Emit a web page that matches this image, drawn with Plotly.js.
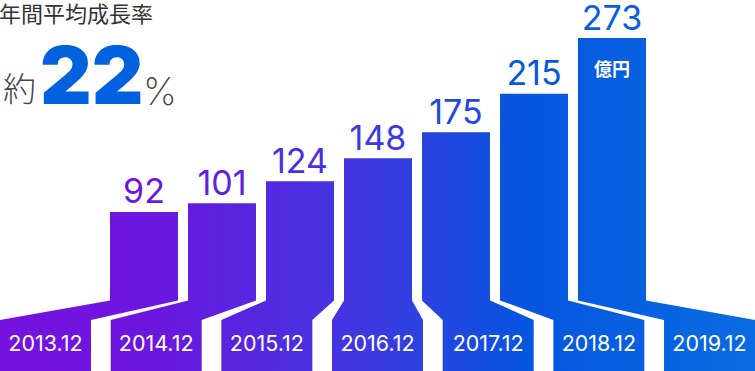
<!DOCTYPE html>
<html>
<head>
<meta charset="utf-8">
<script src="https://cdn.plot.ly/plotly-3.0.1.min.js"></script>
<style>
  html, body { margin: 0; padding: 0; background: #ffffff; }
  #chart { width: 755px; height: 371px; }
</style>
</head>
<body>
<div id="chart"></div>
<script>
// ---- data ----
const years = ['2013.12', '2014.12', '2015.12', '2016.12', '2017.12', '2018.12', '2019.12'];
const values = [92, 101, 124, 148, 175, 215, 273];
const unitLabel = '億円';
const headline = '年間平均成長率';
const ratePrefix = '約';
const rateValue = '22';
const rateSuffix = '%';

// ---- layout constants (pixels) ----
const W = 755, H = 371;
const BAR_PITCH = 78;          // px per x-unit
const BAR_W = 68;
const FIRST_BAR_CENTER = 144;  // px
const ZERO_Y = 300.4;          // px where value 0 sits
const PX_PER_VAL = 0.961;
const BOX_PITCH = 110.67, BOX_W = 91, BOX_TOP = 320;

const xMin = -FIRST_BAR_CENTER / BAR_PITCH;
const xMax = (W - FIRST_BAR_CENTER) / BAR_PITCH;
const yMax = ZERO_Y / PX_PER_VAL;
const yMin = -(H - ZERO_Y) / PX_PER_VAL;
const pxToX = px => (px - FIRST_BAR_CENTER) / BAR_PITCH;
const pyToY = py => (ZERO_Y - py) / PX_PER_VAL;

const stops = [[0, '#7611E0'], [0.2, '#6C16DF'], [0.5, '#3B3AE1'], [0.7, '#0556E0'], [1, '#0A6BE1']];
function hex2rgb(h) { return [1, 3, 5].map(i => parseInt(h.substr(i, 2), 16)); }
function colorAt(t) {
  for (let k = 1; k < stops.length; k++) {
    if (t <= stops[k][0]) {
      const a = stops[k - 1], b = stops[k];
      const f = (t - a[0]) / (b[0] - a[0]);
      const ca = hex2rgb(a[1]), cb = hex2rgb(b[1]);
      const c = ca.map((v, j) => Math.round(v + (cb[j] - v) * f));
      return 'rgb(' + c.join(',') + ')';
    }
  }
  return stops[stops.length - 1][1];
}

const halfBar = (BAR_W / 2) / BAR_PITCH;
const boxTopY = pyToY(BOX_TOP);
const boxBotY = yMin - 2;

const traces = [];
values.forEach((v, i) => {
  const bl = pxToX(BOX_PITCH * i);
  const br = pxToX(BOX_PITCH * i + BOX_W);
  const xl = i - halfBar, xr = i + halfBar;
  traces.push({
    type: 'scatter', mode: 'none', fill: 'toself', hoverinfo: 'skip',
    x: [bl, bl, xl, xl, xr, xr, br, br, bl],
    y: [boxBotY, boxTopY, 0, v, v, 0, boxTopY, boxBotY, boxBotY],
    fillcolor: colorAt((FIRST_BAR_CENTER + BAR_PITCH * i) / W),
    fillgradient: { type: 'horizontal', colorscale: stops, start: xMin, stop: xMax }
  });
});

// value labels
traces.push({
  type: 'scatter', mode: 'text', hoverinfo: 'skip', cliponaxis: false,
  x: values.map((v, i) => i), y: values,
  text: values.map(String), textposition: 'top center',
  textfont: { family: 'Inter, sans-serif', size: 34, weight: 400,
    color: values.map((v, i) => colorAt((FIRST_BAR_CENTER + BAR_PITCH * i) / W)) }
});

// year labels
traces.push({
  type: 'scatter', mode: 'text', hoverinfo: 'skip', cliponaxis: false,
  x: years.map((y, i) => pxToX(BOX_PITCH * i + BOX_W / 2)),
  y: years.map(() => pyToY(346)),
  text: years, textposition: 'middle center',
  textfont: { family: 'Inter, sans-serif', size: 21.5, color: '#ffffff' }
});

const last = values.length - 1;
const layout = {
  width: W, height: H,
  margin: { l: 0, r: 0, t: 0, b: 0, pad: 0 },
  paper_bgcolor: '#ffffff', plot_bgcolor: '#ffffff',
  showlegend: false,
  xaxis: { range: [xMin, xMax], visible: false, fixedrange: true },
  yaxis: { range: [yMin, yMax], visible: false, fixedrange: true },
  annotations: [
    { text: unitLabel, x: last, y: values[last], xref: 'x', yref: 'y',
      xanchor: 'center', yanchor: 'middle', yshift: -30, showarrow: false,
      font: { family: '"Noto Sans CJK JP", sans-serif', size: 18, color: '#ffffff', weight: 700 } },
    { text: headline, x: 0, y: 1, xref: 'paper', yref: 'paper',
      xanchor: 'left', yanchor: 'top', showarrow: false, xshift: -2, yshift: 5, borderpad: 0,
      font: { family: '"Noto Sans CJK JP", sans-serif', size: 22, color: '#333333' } },
    { text: ratePrefix, x: 2 / W, y: 1 - 87 / H, xref: 'paper', yref: 'paper',
      xanchor: 'left', yanchor: 'middle', showarrow: false, xshift: -1,
      font: { family: '"Noto Sans CJK JP", sans-serif', size: 33, color: '#444444', weight: 300 } },
    { text: rateValue, x: 91 / W, y: 1 - 75 / H, xref: 'paper', yref: 'paper',
      xanchor: 'center', yanchor: 'middle', showarrow: false,
      font: { family: 'Inter, sans-serif', size: 80, color: '#0061DF', weight: 900 } },
    { text: rateSuffix, x: 160 / W, y: 1 - 91 / H, xref: 'paper', yref: 'paper',
      xanchor: 'center', yanchor: 'middle', showarrow: false,
      font: { family: 'Inter, sans-serif', size: 38, color: '#444444', weight: 200 } }
  ]
};

Plotly.newPlot('chart', traces, layout, { staticPlot: true, displayModeBar: false });
</script>
</body>
</html>
